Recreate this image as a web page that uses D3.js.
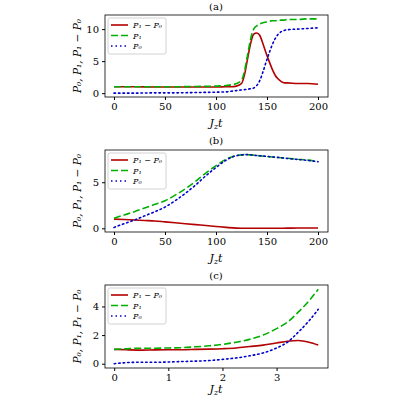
<!DOCTYPE html><html><head><script src="https://d3js.org/d3.v7.min.js"></script>
<style>body{margin:0;background:#fff}text{font-family:"DejaVu Serif","Liberation Serif",serif}</style></head><body>
<svg id="s" width="400" height="400"></svg>
<script>
const tA=[0,20,40,60,80,100,110,115,120,125,128,131,134,137,140,143,146,149,152,155,158,161,164,167,170,180,190,200];
const p1A=[1,1,1,1,1.05,1.1,1.2,1.3,1.5,2.0,3.5,6.0,8.5,10.0,10.5,10.8,11.0,11.1,11.2,11.3,11.3,11.4,11.4,11.4,11.5,11.5,11.6,11.6];
const p0A=[0,0,0.05,0.05,0.1,0.15,0.2,0.3,0.4,0.5,0.55,0.6,0.7,0.8,1.2,2.0,3.3,4.8,6.2,7.5,8.5,9.2,9.6,9.8,9.9,10.0,10.1,10.2];
const dA=[1,1,0.95,0.95,0.95,0.95,1.0,1.0,1.1,1.5,2.9,5.4,7.8,9.2,9.4,9.0,7.7,6.3,5.0,3.8,2.8,2.2,1.8,1.6,1.6,1.5,1.5,1.4];
const tB=[0,10,20,30,40,50,60,70,80,90,100,110,120,130,140,150,160,170,180,190,200];
const p1B=[1.1,1.45,1.8,2.2,2.6,3.0,3.6,4.3,5.1,6.0,6.8,7.5,7.9,8.0,7.9,7.8,7.7,7.6,7.5,7.4,7.25];
const dB=[1.0,0.95,0.9,0.85,0.8,0.7,0.6,0.5,0.4,0.3,0.2,0.1,0.02,0,0,0,0,0.02,0.03,0.03,0.03];
const p0B=[0.1,0.5,0.9,1.35,1.8,2.3,3.0,3.8,4.7,5.7,6.6,7.4,7.88,8.0,7.9,7.8,7.7,7.58,7.47,7.37,7.22];
const tC=[0,0.25,0.5,0.75,1,1.25,1.5,1.75,2,2.25,2.5,2.75,3,3.2,3.4,3.6,3.77];
const p1C=[1.0,1.05,1.08,1.08,1.1,1.12,1.18,1.25,1.35,1.5,1.7,2.0,2.45,2.9,3.6,4.4,5.2];
const p0C=[0.0,0.08,0.1,0.1,0.12,0.15,0.18,0.22,0.3,0.4,0.55,0.75,1.1,1.5,2.2,3.0,3.8];
const dC=[1.0,0.97,0.95,0.97,0.98,0.98,1.0,1.02,1.05,1.1,1.2,1.3,1.45,1.57,1.62,1.5,1.3];
const svg=d3.select("#s");
const panels=[
 {title:"(a)",top:15,bot:97,t:tA,series:[dA,p1A,p0A],xd:[-8.8,209.8],yd:[-0.6,12.2],xt:[0,50,100,150,200],yt:[0,5,10],ty:10,xl:127},
 {title:"(b)",top:150,bot:232,t:tB,series:[dB,p1B,p0B],xd:[-8.8,209.8],yd:[-0.4,8.5],xt:[0,50,100,150,200],yt:[0,5],ty:144,xl:262},
 {title:"(c)",top:285,bot:368,t:tC,series:[dC,p1C,p0C],xd:[-0.17,3.95],yd:[-0.3,5.5],xt:[0,1,2,3],yt:[0,2,4],ty:279,xl:393}];
const styles=[{c:"#b30000",da:null},{c:"#00b000",da:"7,3"},{c:"#0000cc",da:"1.5,3"}];
const names=["P₁ − P₀","P₁","P₀"];
panels.forEach(p=>{
 const x=d3.scaleLinear().domain(p.xd).range([105,328]);
 const y=d3.scaleLinear().domain(p.yd).range([p.bot,p.top]);
 const g=svg.append("g");
 g.append("g").attr("transform",`translate(0,${p.bot})`).call(d3.axisBottom(x).tickValues(p.xt).tickFormat(d3.format("d")).tickSize(3).tickPadding(3)).call(a=>{a.select(".domain").remove();a.selectAll("text").attr("font-size",10).attr("fill","#000")});
 g.append("g").attr("transform","translate(105,0)").call(d3.axisLeft(y).tickValues(p.yt).tickFormat(d3.format("d")).tickSize(3).tickPadding(3)).call(a=>{a.select(".domain").remove();a.selectAll("text").attr("font-size",10).attr("fill","#000")});
 p.series.forEach((s,i)=>{
  g.append("path").datum(s).attr("fill","none").attr("stroke",styles[i].c).attr("stroke-width",1.6)
   .attr("stroke-dasharray",styles[i].da).attr("stroke-linecap",i==2?"round":"butt")
   .attr("d",d3.line().x((d,j)=>x(p.t[j])).y(d=>y(d)).curve(d3.curveMonotoneX));
 });
 g.append("rect").attr("x",105).attr("y",p.top).attr("width",223).attr("height",p.bot-p.top).attr("fill","none").attr("stroke","#000").attr("stroke-width",0.8);
 g.append("text").attr("x",216).attr("y",p.ty).attr("text-anchor","middle").attr("font-size",10).text(p.title);
 g.append("text").attr("x",216).attr("y",p.xl).attr("text-anchor","middle").attr("font-size",11).attr("font-style","italic").html("J<tspan font-size='8' dy='2'>z</tspan><tspan dy='-2'>t</tspan>");
 g.append("text").attr("transform",`translate(81,${(p.top+p.bot)/2}) rotate(-90)`).attr("text-anchor","middle").attr("font-size",10.5).attr("font-style","italic").text("P₀, P₁, P₁ − P₀");
 const lg=g.append("g").attr("transform",`translate(108,${p.top+3})`);
 lg.append("rect").attr("width",58).attr("height",36).attr("fill","#fff").attr("stroke","#ccc").attr("rx",2).attr("opacity",0.85);
 names.forEach((n,i)=>{
  const yy=7+i*10.5;
  lg.append("line").attr("x1",3).attr("x2",20).attr("y1",yy).attr("y2",yy).attr("stroke",styles[i].c).attr("stroke-width",1.6).attr("stroke-dasharray",styles[i].da);
  lg.append("text").attr("x",25).attr("y",yy+3).attr("font-size",8).attr("font-style","italic").text(n);
 });
});
</script></body></html>
